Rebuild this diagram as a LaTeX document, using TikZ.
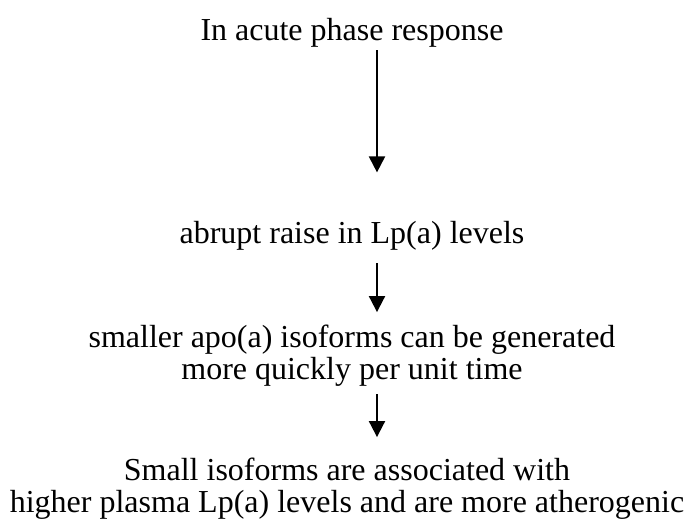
\documentclass[tikz,border=0pt]{standalone}
\usepackage{fontspec}
\setmainfont{Liberation Serif}
\usepackage{tikz}
\usetikzlibrary{arrows.meta, positioning, calc}
\tikzset{
  steptext/.style={
    align=center, inner sep=0pt, anchor=base,
    font=\fontsize{16}{16}\selectfont
  },
  steparrow/.style={
    -{Triangle[length=8pt, width=8pt]}, line width=1pt
  },
}

\begin{document}
\begin{tikzpicture}[x=0.5pt, y=-0.5pt]
  \useasboundingbox (0,0) rectangle (693,525);

  % steps of the cascade
  \node[steptext] (acute) at (352,40) {In acute phase response};
  \node[steptext] (raise) at (352,243) {abrupt raise in Lp(a) levels};
  \node[steptext] (apo)   at (352,379) {smaller apo(a) isoforms can be generated\\more quickly per unit time};
  \node[steptext] (small) at (347,512) {Small isoforms are associated with\\higher plasma Lp(a) levels and are more atherogenic};

  % arrow column
  \coordinate (axis) at (377,0);

  \draw[steparrow] ($(acute.south -| axis)+(0,3)$) -- ($(raise.north -| axis)+(0,-48)$);
  \draw[steparrow] ($(raise.south -| axis)+(0,13)$) -- ($(apo.north -| axis)+(0,-12)$);
  \draw[steparrow] ($(apo.south -| axis)+(0,8)$) -- ($(small.north -| axis)+(0,-20)$);
\end{tikzpicture}
\end{document}
